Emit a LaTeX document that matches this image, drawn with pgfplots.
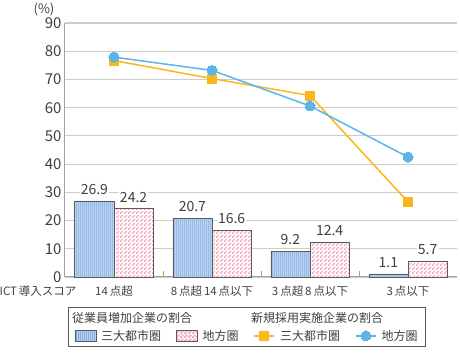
\documentclass[border=0pt]{standalone}
\usepackage{pgfplots}
\pgfplotsset{compat=1.18}
\usepackage{fontspec}
\setmainfont{Noto Sans CJK JP}
\usetikzlibrary{patterns}
\definecolor{txt}{HTML}{404040}
\definecolor{gridc}{HTML}{CCCCCC}
\definecolor{axisc}{HTML}{A0A0A0}
\definecolor{barblue}{HTML}{B8D2F2}
\definecolor{lineblue}{HTML}{6E9BD8}
\definecolor{pinkc}{HTML}{F4A3BA}
\definecolor{orangec}{HTML}{FBB71A}
\definecolor{skyc}{HTML}{5BB5E8}
\definecolor{edgec}{HTML}{5A5A5A}
\pgfdeclarepatternformonly{fvlines}{\pgfpointorigin}{\pgfpoint{2pt}{1pt}}{\pgfpoint{2pt}{1pt}}{\pgfpathrectangle{\pgfpointorigin}{\pgfpoint{0.9pt}{1pt}}\pgfusepath{fill}}
\pgfdeclarepatternformonly{fchecker}{\pgfpointorigin}{\pgfpoint{4pt}{4pt}}{\pgfpoint{4pt}{4pt}}{\pgfpathrectangle{\pgfpointorigin}{\pgfpoint{2pt}{2pt}}\pgfpathrectangle{\pgfpoint{2pt}{2pt}}{\pgfpoint{2pt}{2pt}}\pgfusepath{fill}}
\pgfplotsset{
  linelegend/.style={legend image code/.code={\draw[##1, mark repeat=2, mark phase=2] plot coordinates {(0pt,0pt) (10pt,0pt) (20pt,0pt)};}},
  bluebarlegend/.style={legend image code/.code={\draw[draw=edgec, line width=0.6pt, fill=barblue, postaction={pattern=fvlines, pattern color=lineblue}] (0pt,-5.5pt) rectangle (21pt,5.5pt);}},
  pinkbarlegend/.style={legend image code/.code={\draw[draw=edgec, line width=0.6pt, fill=white, postaction={pattern=fchecker, pattern color=pinkc}] (0pt,-5.5pt) rectangle (21pt,5.5pt);}},
  barlabels/.style={
    nodes near coords={\pgfmathprintnumber[fixed,fixed zerofill,precision=1,assume math mode=true]{\pgfplotspointmeta}},
    nodes near coords style={font=\fontsize{14}{16}\selectfont, text=txt, fill=white, inner sep=1.2pt, anchor=south, yshift=5pt, xshift=#1}},
}
\begin{document}
\begin{tikzpicture}
\begin{axis}[
  scale only axis, width=392pt, height=254pt,
  xmin=-0.5, xmax=3.5, ymin=0, ymax=90,
  ytick={0,10,...,90},
  xtick={0,1,2,3},
  xticklabels={14\,点超, 8\,点超\,14\,点以下, 3\,点超\,8\,点以下, 3\,点以下},
  extra x ticks={0.5,1.5,2.5}, extra x tick labels={},
  extra x tick style={major tick length=6pt, tick align=inside, tick style={draw=axisc, line width=0.8pt}},
  axis lines*=left,
  axis line style={draw=axisc, line width=1pt},
  ymajorgrids, grid style={draw=gridc, line width=1.2pt},
  major tick length=0pt,
  yticklabel style={font=\fontsize{15}{17}\selectfont, text=txt},
  xticklabel style={font=\fontsize{11.5}{14}\selectfont, text=txt, yshift=-5pt},
  /pgf/number format/assume math mode=true,
  legend columns=4,
  legend cell align=left,
  legend style={at={(0.008,0)}, anchor=north west, yshift=-30pt, draw=edgec, line width=0.8pt,
    font=\fontsize{12}{14}\selectfont, text=txt,
    /tikz/every even column/.append style={column sep=13pt},
    /tikz/every odd column/.append style={column sep=3pt},
    inner xsep=6pt, inner ysep=3pt, row sep=2pt},
  clip=false,
]
\addlegendimage{empty legend}
\addlegendentry{\makebox[0pt][l]{\hspace*{-29pt}従業員増加企業の割合}}
\addlegendimage{empty legend}
\addlegendentry{}
\addlegendimage{empty legend}
\addlegendentry{\makebox[0pt][l]{\hspace*{-29pt}新規採用実施企業の割合}}
\addlegendimage{empty legend}
\addlegendentry{}

\addplot[ybar, bar width=0.4, bar shift=-0.2, draw=edgec, line width=0.6pt, fill=barblue,
  postaction={pattern=fvlines, pattern color=lineblue}, barlabels=-19.6pt, bluebarlegend]
  coordinates {(0,26.9) (1,20.7) (2,9.2) (3,1.1)};
\addlegendentry{三大都市圏}
\addplot[ybar, bar width=0.4, bar shift=0.2, draw=edgec, line width=0.6pt, fill=white,
  postaction={pattern=fchecker, pattern color=pinkc}, barlabels=19.6pt, pinkbarlegend]
  coordinates {(0,24.2) (1,16.6) (2,12.4) (3,5.7)};
\addlegendentry{地方圏}
\addplot[draw=orangec, line width=1.5pt, mark=square*, mark size=4.5pt, mark options={fill=orangec, draw=orangec, line width=0pt}, linelegend]
  coordinates {(0,76.7) (1,70.3) (2,64.3) (3,26.6)};
\addlegendentry{三大都市圏}
\addplot[draw=skyc, line width=1.5pt, mark=*, mark size=5pt, mark options={fill=skyc, draw=skyc, line width=0pt}, linelegend]
  coordinates {(0,77.9) (1,73.2) (2,60.6) (3,42.5)};
\addlegendentry{地方圏}
\node[font=\fontsize{13}{15}\selectfont, text=txt] at (rel axis cs:0,1) [xshift=-21pt, yshift=14pt] {(\%)};
\node[font=\fontsize{11.5}{14}\selectfont, text=txt, anchor=north east] at (axis cs:-0.5,0) [xshift=15pt, yshift=-5pt] {ICT\,導入スコア};
\end{axis}
\pgfresetboundingbox
\path[use as bounding box] ([xshift=-65pt,yshift=-77pt]current axis.south west) rectangle ([xshift=3pt,yshift=23pt]current axis.north east);
\end{tikzpicture}
\end{document}
